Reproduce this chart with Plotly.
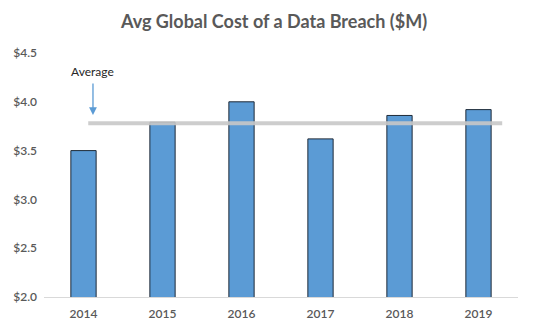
import plotly.graph_objects as go

years = ["2014", "2015", "2016", "2017", "2018", "2019"]
costs = [3.50, 3.79, 4.00, 3.62, 3.86, 3.92]
average = 3.78
avg_line_x = [0.06, 5.3]
y_ticks = [2.0, 2.5, 3.0, 3.5, 4.0, 4.5]
y_ticktext = ["$2.0", "$2.5", "$3.0", "$3.5", "$4.0", "$4.5"]

idx = list(range(len(years)))

fig = go.Figure()
fig.add_trace(go.Bar(
    x=idx, y=costs, width=0.32,
    marker=dict(color="#5b9bd5", line=dict(color="#1e2a38", width=1)),
    hoverinfo="skip",
))
fig.add_trace(go.Scatter(
    x=avg_line_x, y=[average, average], mode="lines",
    line=dict(color="rgba(200,200,200,0.9)", width=4),
    hoverinfo="skip",
))

fig.add_annotation(x=0.12, y=3.865, xref="x", yref="y", ax=0, ay=-33,
                   text="", showarrow=True, arrowhead=2, arrowsize=1.2,
                   arrowwidth=1.3, arrowcolor="#5b9bd5")
fig.add_annotation(x=0.12, y=4.5 - (71 - 53) / 97.6, xref="x", yref="y",
                   text="Average", showarrow=False,
                   font=dict(family="Lato", size=12, color="#262626"))

tickfont = dict(family="Lato", size=12, color="#595959", weight=600)

fig.update_layout(
    width=548, height=335,
    margin=dict(l=44, r=30, t=53, b=38),
    plot_bgcolor="white", paper_bgcolor="white",
    showlegend=False,
    title=dict(text="<b>Avg Global Cost of a Data Breach ($M)</b>",
               x=0.5, xanchor="center", y=1 - 22 / 335, yanchor="middle",
               font=dict(family="Lato", size=18, color="#595959")),
    xaxis=dict(range=[-0.5, 5.5], tickvals=idx, ticktext=years,
               showgrid=False, zeroline=False, showline=True,
               linecolor="#d9d9d9", linewidth=1, ticks="",
               tickfont=tickfont, ticklabelstandoff=6),
    yaxis=dict(range=[2.0, 4.5], tickvals=y_ticks, ticktext=y_ticktext,
               showgrid=False, zeroline=False, showline=False, ticks="",
               tickfont=tickfont, ticklabelstandoff=6),
)

fig.write_html("out.html")
